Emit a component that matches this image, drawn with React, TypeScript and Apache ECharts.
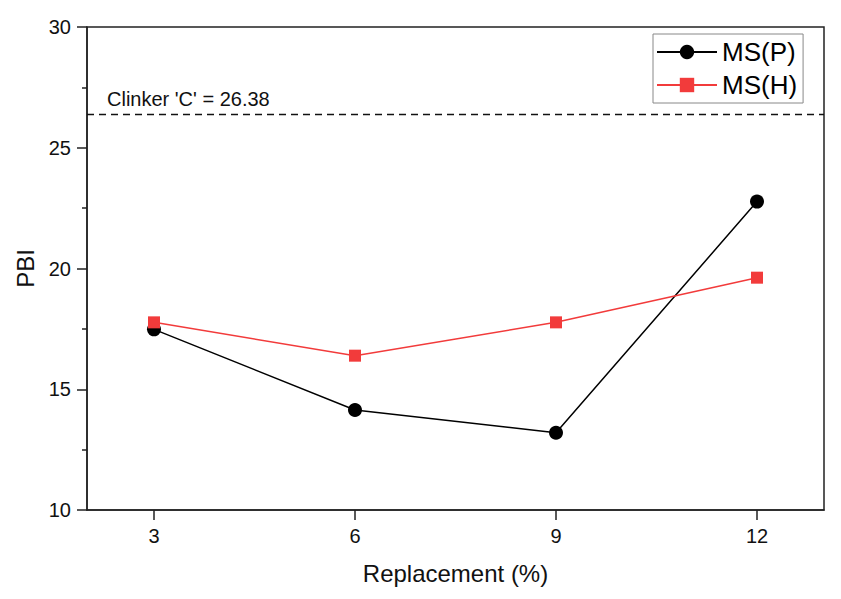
import React, { useEffect, useRef } from "react";
import * as echarts from "echarts";

const replacement = [3, 6, 9, 12];
const msP = [17.48, 14.14, 13.2, 22.77];
const msH = [17.77, 16.39, 17.77, 19.62];
const clinkerC = 26.38;
const xTicks = [3, 6, 9, 12];

const FONT = "Arial, 'Liberation Sans', sans-serif";

export default function App() {
  const ref = useRef<HTMLDivElement>(null);
  useEffect(() => {
    if (!ref.current) return;
    const chart = echarts.init(ref.current, null, { renderer: "svg" });
    chart.setOption({
      animation: false,
      backgroundColor: "#fff",
      textStyle: { fontFamily: FONT },
      grid: {
        left: 87,
        right: 17,
        top: 27,
        bottom: 89,
        show: true,
        borderColor: "#222",
        borderWidth: 1.5,
      },
      legend: {
        left: 653,
        top: 34,
        orient: "vertical",
        itemWidth: 60,
        itemHeight: 18,
        itemGap: 3,
        padding: [3, 6, 3, 3],
        borderColor: "#888",
        borderWidth: 1,
        textStyle: { fontSize: 26, color: "#000", fontFamily: FONT, lineHeight: 30 },
        data: ["MS(P)", "MS(H)"],
      },
      xAxis: {
        type: "value",
        min: 2,
        max: 13,
        name: "Replacement (%)",
        nameLocation: "middle",
        nameGap: 51,
        nameTextStyle: { fontSize: 24, color: "#111", fontFamily: FONT },
        axisLine: { show: true, lineStyle: { color: "#222", width: 1.5 } },
        axisTick: { show: true, inside: false, length: 10, customValues: xTicks, lineStyle: { color: "#222", width: 1.5 } },
        axisLabel: { customValues: xTicks, fontSize: 20, color: "#111", margin: 16, fontFamily: FONT },
        splitLine: { show: false },
      },
      yAxis: {
        type: "value",
        min: 10,
        max: 30,
        interval: 5,
        name: "PBI",
        nameLocation: "middle",
        nameGap: 48,
        nameTextStyle: { fontSize: 24, color: "#111", fontFamily: FONT },
        axisLine: { show: true, lineStyle: { color: "#222", width: 1.5 } },
        axisTick: { show: true, inside: false, length: 10, lineStyle: { color: "#222", width: 1.5 } },
        minorTick: { show: true, splitNumber: 2, length: 5, lineStyle: { color: "#222", width: 1.5 } },
        axisLabel: { fontSize: 20, color: "#111", margin: 16, fontFamily: FONT },
        splitLine: { show: false },
      },
      series: [
        {
          name: "MS(P)",
          type: "line",
          data: replacement.map((x, i) => [x, msP[i]]),
          symbol: "circle",
          symbolSize: 14,
          itemStyle: { color: "#000" },
          lineStyle: { color: "#000", width: 1.5 },
          z: 3,
          markLine: {
            silent: true,
            symbol: "none",
            lineStyle: { color: "#111", type: [7, 5], width: 1.3 },
            label: {
              show: true,
              position: "insideStartTop",
              distance: [20, 5],
              formatter: () => `Clinker 'C' = ${clinkerC}`,
              fontSize: 20,
              color: "#111",
              fontFamily: FONT,
            },
            data: [{ yAxis: clinkerC }],
          },
        },
        {
          name: "MS(H)",
          type: "line",
          data: replacement.map((x, i) => [x, msH[i]]),
          symbol: "rect",
          symbolSize: 12,
          itemStyle: { color: "#F23B3B" },
          lineStyle: { color: "#F23B3B", width: 1.5 },
          z: 4,
        },
      ],
    });
    return () => chart.dispose();
  }, []);
  return (
    <div
      ref={ref}
      style={{ position: "fixed", left: 0, top: 0, width: 841, height: 599, background: "#fff" }}
    />
  );
}
